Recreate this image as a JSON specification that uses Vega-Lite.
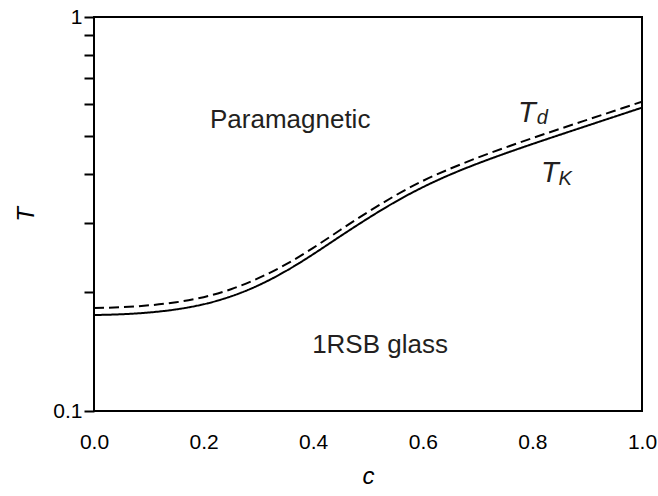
{
  "$schema": "https://vega.github.io/schema/vega-lite/v6.json",
  "width": 548,
  "height": 394,
  "autosize": {"type": "none"},
  "padding": {"left": 94, "top": 17, "right": 16, "bottom": 85},
  "background": "white",
  "config": {
    "view": {"stroke": "black", "strokeWidth": 2},
    "font": "Liberation Sans",
    "axis": {"grid": false, "domain": false, "labelColor": "black", "titleColor": "black", "labelFont": "Liberation Sans", "titleFont": "Liberation Sans"}
  },
  "encoding": {
    "x": {
      "field": "c", "type": "quantitative",
      "scale": {"domain": [0, 1], "nice": false, "zero": false},
      "axis": {"title": "c", "titleFontStyle": "italic", "titleFontWeight": "normal", "titleFontSize": 24, "titlePadding": 12,
        "values": [0, 0.2, 0.4, 0.6, 0.8, 1], "format": ".1f", "ticks": false, "tickSize": 0, "labelFontSize": 21, "labelPadding": 20, "labelFlush": false, "labelOverlap": false}
    },
    "y": {
      "field": "T", "type": "quantitative",
      "scale": {"type": "log", "domain": [0.1, 1], "nice": false},
      "axis": {"title": "T", "titleFontStyle": "italic", "titleFontWeight": "normal", "titleFontSize": 24, "titlePadding": 14,
        "values": [0.1, 0.2, 0.3, 0.4, 0.5, 0.6, 0.7, 0.8, 0.9, 1],
        "labelExpr": "datum.value === 1 ? '1' : (datum.value === 0.1 ? '0.1' : '')",
        "tickSize": 10, "tickWidth": 2, "tickColor": "black", "labelFontSize": 21, "labelPadding": 2, "labelFlush": false, "labelOverlap": false}
    }
  },
  "layer": [
    {
      "data": {"values": [
        {"curve": "TK", "c": 0.0, "T": 0.1752}, {"curve": "TK", "c": 0.05, "T": 0.176}, {"curve": "TK", "c": 0.1, "T": 0.1778},
        {"curve": "TK", "c": 0.15, "T": 0.1811}, {"curve": "TK", "c": 0.2, "T": 0.1866}, {"curve": "TK", "c": 0.25, "T": 0.1954},
        {"curve": "TK", "c": 0.3, "T": 0.2084}, {"curve": "TK", "c": 0.35, "T": 0.2265}, {"curve": "TK", "c": 0.4, "T": 0.25},
        {"curve": "TK", "c": 0.45, "T": 0.278}, {"curve": "TK", "c": 0.5, "T": 0.3083}, {"curve": "TK", "c": 0.55, "T": 0.3396},
        {"curve": "TK", "c": 0.6, "T": 0.3698}, {"curve": "TK", "c": 0.65, "T": 0.3981}, {"curve": "TK", "c": 0.7, "T": 0.4246},
        {"curve": "TK", "c": 0.75, "T": 0.4503}, {"curve": "TK", "c": 0.8, "T": 0.476}, {"curve": "TK", "c": 0.85, "T": 0.5023},
        {"curve": "TK", "c": 0.9, "T": 0.5297}, {"curve": "TK", "c": 0.95, "T": 0.5585}, {"curve": "TK", "c": 1.0, "T": 0.5888},
        {"curve": "Td", "c": 0.0, "T": 0.1826}, {"curve": "Td", "c": 0.05, "T": 0.1834}, {"curve": "Td", "c": 0.1, "T": 0.1854},
        {"curve": "Td", "c": 0.15, "T": 0.1888}, {"curve": "Td", "c": 0.2, "T": 0.1945}, {"curve": "Td", "c": 0.25, "T": 0.2037},
        {"curve": "Td", "c": 0.3, "T": 0.2173}, {"curve": "Td", "c": 0.35, "T": 0.2355}, {"curve": "Td", "c": 0.4, "T": 0.2594},
        {"curve": "Td", "c": 0.45, "T": 0.2884}, {"curve": "Td", "c": 0.5, "T": 0.3199}, {"curve": "Td", "c": 0.55, "T": 0.3524},
        {"curve": "Td", "c": 0.6, "T": 0.3837}, {"curve": "Td", "c": 0.65, "T": 0.4121}, {"curve": "Td", "c": 0.7, "T": 0.4395},
        {"curve": "Td", "c": 0.75, "T": 0.466}, {"curve": "Td", "c": 0.8, "T": 0.4926}, {"curve": "Td", "c": 0.85, "T": 0.52},
        {"curve": "Td", "c": 0.9, "T": 0.5483}, {"curve": "Td", "c": 0.95, "T": 0.5781}, {"curve": "Td", "c": 1.0, "T": 0.6095}
      ]},
      "mark": {"type": "line", "color": "black", "strokeWidth": 2, "interpolate": "natural", "clip": true},
      "encoding": {
        "detail": {"field": "curve", "type": "nominal"},
        "strokeDash": {"field": "curve", "type": "nominal", "scale": {"domain": ["Td", "TK"], "range": [[10, 5], [1, 0]]}, "legend": null}
      }
    },
    {
      "data": {"values": [
        {"label": "Paramagnetic", "c": 0.358, "T": 0.548},
        {"label": "1RSB glass", "c": 0.522, "T": 0.1472}
      ]},
      "mark": {"type": "text", "fontSize": 26, "align": "center", "baseline": "middle", "color": "#231f20", "font": "Liberation Sans"},
      "encoding": {"text": {"field": "label"}}
    },
    {
      "data": {"values": [
        {"label": "T", "c": 0.79, "T": 0.542},
        {"label": "T", "c": 0.832, "T": 0.3817}
      ]},
      "mark": {"type": "text", "fontSize": 29, "fontStyle": "italic", "align": "center", "baseline": "alphabetic", "color": "#231f20", "font": "Liberation Sans"},
      "encoding": {"text": {"field": "label"}}
    },
    {
      "data": {"values": [
        {"label": "d", "c": 0.818, "T": 0.5356},
        {"label": "K", "c": 0.86, "T": 0.375}
      ]},
      "mark": {"type": "text", "fontSize": 20, "fontStyle": "italic", "align": "center", "baseline": "alphabetic", "color": "#231f20", "font": "Liberation Sans"},
      "encoding": {"text": {"field": "label"}}
    }
  ]
}
